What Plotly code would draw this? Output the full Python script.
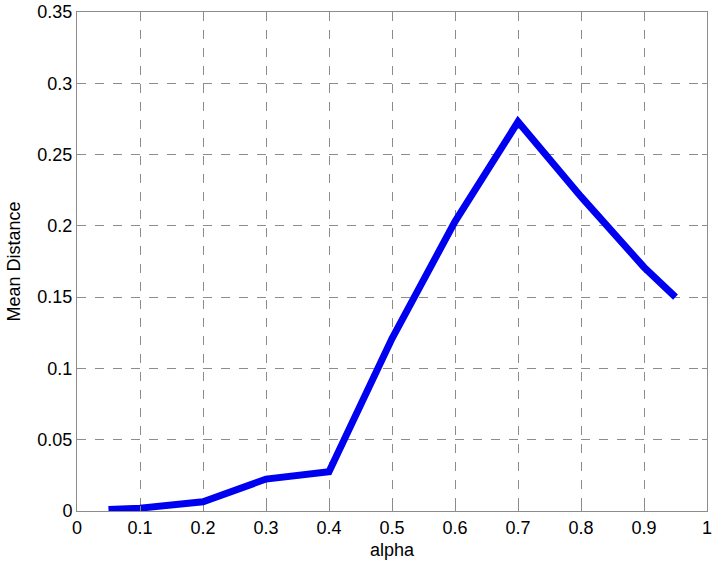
import plotly.graph_objects as go

alpha = [0.05, 0.1, 0.2, 0.3, 0.4, 0.5, 0.6, 0.7, 0.8, 0.9, 0.95]
mean_distance = [0.001, 0.002, 0.0065, 0.0224, 0.0276, 0.121, 0.203, 0.273, 0.2205, 0.171, 0.150]

x_ticks = [0, 0.1, 0.2, 0.3, 0.4, 0.5, 0.6, 0.7, 0.8, 0.9, 1]
x_labels = ["0", "0.1", "0.2", "0.3", "0.4", "0.5", "0.6", "0.7", "0.8", "0.9", "1"]
y_ticks = [0, 0.05, 0.1, 0.15, 0.2, 0.25, 0.3, 0.35]
y_labels = ["0", "0.05", "0.1", "0.15", "0.2", "0.25", "0.3", "0.35"]

fig = go.Figure()
fig.add_trace(go.Scatter(x=alpha, y=mean_distance, mode="lines",
                         line=dict(color="#0000f0", width=7), showlegend=False))

font = dict(family="Liberation Sans, Arial, sans-serif", size=18, color="#000000")
axis_common = dict(showline=True, linecolor="#8c8c8c", linewidth=1, mirror="ticks",
                   ticks="inside", ticklen=5, tickcolor="#8c8c8c",
                   showgrid=True, gridcolor="#8c8c8c", griddash="dash", gridwidth=1,
                   zeroline=False, tickfont=font, automargin=False)

fig.update_xaxes(range=[0, 1], tickvals=x_ticks, ticktext=x_labels,
                 title=dict(text="alpha", font=font, standoff=6), **axis_common)
fig.update_yaxes(range=[0, 0.35], tickvals=y_ticks, ticktext=y_labels,
                 title=dict(text="Mean Distance", font=font, standoff=12), **axis_common)

fig.update_layout(width=714, height=566, margin=dict(l=77, r=7, t=12, b=55),
                  paper_bgcolor="white", plot_bgcolor="white", font=font)

fig.write_html("out.html", config={"displayModeBar": False},
               post_script="document.body.style.margin='0';")
